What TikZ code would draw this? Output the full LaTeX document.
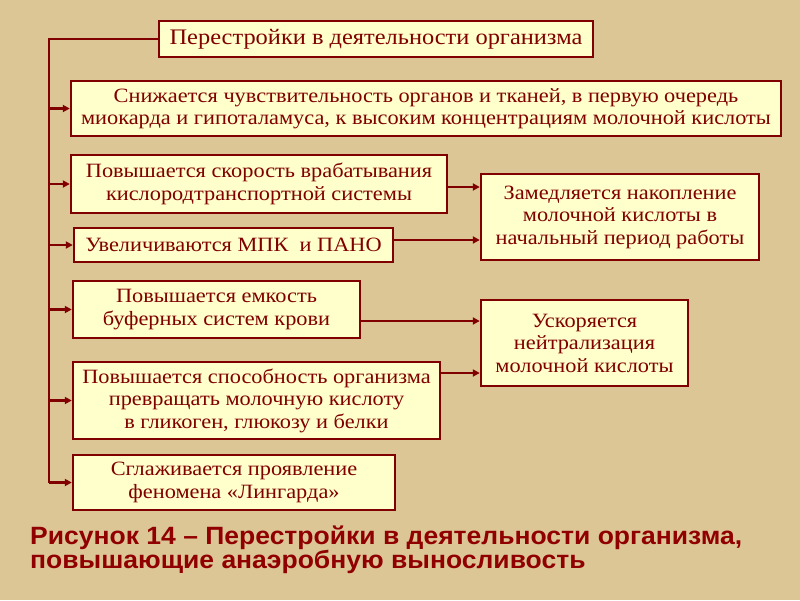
\documentclass[tikz,border=0pt]{standalone}
\usepackage{fontspec}
\setmainfont[FakeStretch=1.1]{Liberation Serif}
\newfontfamily\capfont[FakeStretch=1.06]{Liberation Sans}
\usetikzlibrary{arrows.meta}
\definecolor{bg}{RGB}{220,198,150}
\definecolor{boxfill}{RGB}{255,255,204}
\definecolor{dred}{RGB}{128,0,0}
\definecolor{capred}{RGB}{145,0,0}
\begin{document}
\begin{tikzpicture}[x=1pt,y=-1pt,
  bx/.style={draw=dred,fill=boxfill,line width=2.4pt,text=dred,align=center,
    inner sep=0pt,font=\fontsize{20.3}{22.5}\selectfont},
  ln/.style={draw=dred,line width=2.2pt},
  arr/.style={ln,-{Triangle[length=7pt,width=7pt]}}]
\fill[bg] (0,0) rectangle (800,600);
\useasboundingbox (0,0) rectangle (800,600);
\node[bx,minimum width=434pt,minimum height=36pt,font=\fontsize{22.2}{24}\selectfont] (t) at (376,39) {Перестройки в деятельности организма};
\node[bx,minimum width=710pt,minimum height=55pt] (b2) at (426,108.5) {Снижается чувствительность органов и тканей, в первую очередь\\миокарда и гипоталамуса, к высоким концентрациям молочной кислоты};
\node[bx,minimum width=376pt,minimum height=58pt] (b3) at (259,184) {Повышается скорость врабатывания\\кислородтранспортной системы};
\node[bx,minimum width=319pt,minimum height=34pt] (b4) at (233.5,245) {Увеличиваются МПК\ \ и ПАНО};
\node[bx,minimum width=287pt,minimum height=57pt] (b5) at (216.5,309.5) {Повышается емкость\\буферных систем крови};
\node[bx,minimum width=367pt,minimum height=77pt] (b6) at (256.5,400.5) {Повышается способность организма\\превращать молочную кислоту\\в гликоген, глюкозу и белки};
\node[bx,minimum width=322pt,minimum height=55pt] (b7) at (234,482.5) {Сглаживается проявление\\феномена «Лингарда»};
\node[bx,minimum width=278pt,minimum height=86pt] (ra) at (620,217) {Замедляется накопление\\молочной кислоты в\\начальный период работы};
\node[bx,minimum width=207pt,minimum height=86pt] (rb) at (584.5,343) {Ускоряется\\нейтрализация\\молочной кислоты};
\coordinate (top) at (49,39);
\coordinate (bot) at (49,482.5);
\draw[ln] (t.west) -- (top) -- (bot);
\foreach \b in {b2,b3,b4,b5,b6,b7}{
  \draw[arr] (top |- \b.west) -- (\b.west);
}
\draw[arr] (b3.east |- 0,187) -- (ra.west |- 0,187);
\draw[arr] (b4.east |- 0,240) -- (ra.west |- 0,240);
\draw[arr] (b5.east |- 0,321) -- (rb.west |- 0,321);
\draw[arr] (b6.east |- 0,373) -- (rb.west |- 0,373);
\node[anchor=base west,inner sep=0pt,text=capred,align=left,
  font=\capfont\bfseries\fontsize{25}{24}\selectfont] (cap) at (30,568)
  {Рисунок 14 – Перестройки в деятельности организма,\\повышающие анаэробную выносливость};
\end{tikzpicture}
\end{document}
